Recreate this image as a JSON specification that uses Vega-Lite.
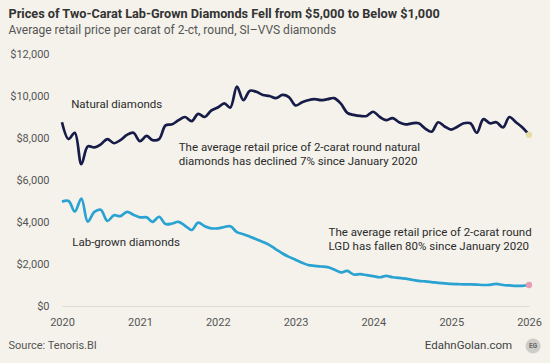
{
  "$schema": "https://vega.github.io/schema/vega-lite/v6.json",
  "width": 467,
  "height": 252,
  "autosize": {"type": "none"},
  "padding": {"left": 62, "top": 54, "right": 21, "bottom": 57},
  "background": "#f4f2eb",
  "config": {
    "view": {"stroke": null},
    "font": "Roboto",
    "title": {"anchor": "start", "frame": "bounds", "fontSize": 12.7, "fontWeight": "bold", "color": "#333333", "subtitleFontSize": 12, "subtitleColor": "#555555", "subtitlePadding": 4, "offset": 12}
  },
  "title": {
    "text": "Prices of Two-Carat Lab-Grown Diamonds Fell from $5,000 to Below $1,000",
    "subtitle": "Average retail price per carat of 2-ct, round, SI–VVS diamonds"
  },
  "datasets": {
    "prices": [
      {"date": "2020-01-01", "natural": 8750, "lab_grown": 4970},
      {"date": "2020-02-01", "natural": 7950, "lab_grown": 5000},
      {"date": "2020-03-01", "natural": 8250, "lab_grown": 4500},
      {"date": "2020-04-01", "natural": 6750, "lab_grown": 5120},
      {"date": "2020-05-01", "natural": 7600, "lab_grown": 4020},
      {"date": "2020-06-01", "natural": 7550, "lab_grown": 4480},
      {"date": "2020-07-01", "natural": 7700, "lab_grown": 4580},
      {"date": "2020-08-01", "natural": 7950, "lab_grown": 4050},
      {"date": "2020-09-01", "natural": 7750, "lab_grown": 4320},
      {"date": "2020-10-01", "natural": 7900, "lab_grown": 4280},
      {"date": "2020-11-01", "natural": 8150, "lab_grown": 4480},
      {"date": "2020-12-01", "natural": 8250, "lab_grown": 4350},
      {"date": "2021-01-01", "natural": 7850, "lab_grown": 4220},
      {"date": "2021-02-01", "natural": 8100, "lab_grown": 4220},
      {"date": "2021-03-01", "natural": 7900, "lab_grown": 4010},
      {"date": "2021-04-01", "natural": 7950, "lab_grown": 4250},
      {"date": "2021-05-01", "natural": 8600, "lab_grown": 3900},
      {"date": "2021-06-01", "natural": 8650, "lab_grown": 3930},
      {"date": "2021-07-01", "natural": 8850, "lab_grown": 4010},
      {"date": "2021-08-01", "natural": 9000, "lab_grown": 3820},
      {"date": "2021-09-01", "natural": 8800, "lab_grown": 3620},
      {"date": "2021-10-01", "natural": 9150, "lab_grown": 3970},
      {"date": "2021-11-01", "natural": 9000, "lab_grown": 3800},
      {"date": "2021-12-01", "natural": 9300, "lab_grown": 3700},
      {"date": "2022-01-01", "natural": 9450, "lab_grown": 3700},
      {"date": "2022-02-01", "natural": 9650, "lab_grown": 3760},
      {"date": "2022-03-01", "natural": 9450, "lab_grown": 3800},
      {"date": "2022-04-01", "natural": 10450, "lab_grown": 3520},
      {"date": "2022-05-01", "natural": 9800, "lab_grown": 3420},
      {"date": "2022-06-01", "natural": 10250, "lab_grown": 3300},
      {"date": "2022-07-01", "natural": 10200, "lab_grown": 3180},
      {"date": "2022-08-01", "natural": 10050, "lab_grown": 3050},
      {"date": "2022-09-01", "natural": 10000, "lab_grown": 2900},
      {"date": "2022-10-01", "natural": 9900, "lab_grown": 2700},
      {"date": "2022-11-01", "natural": 10050, "lab_grown": 2500},
      {"date": "2022-12-01", "natural": 9950, "lab_grown": 2340},
      {"date": "2023-01-01", "natural": 9550, "lab_grown": 2200},
      {"date": "2023-02-01", "natural": 9700, "lab_grown": 2060},
      {"date": "2023-03-01", "natural": 9800, "lab_grown": 1950},
      {"date": "2023-04-01", "natural": 9850, "lab_grown": 1910},
      {"date": "2023-05-01", "natural": 9800, "lab_grown": 1880},
      {"date": "2023-06-01", "natural": 9850, "lab_grown": 1850},
      {"date": "2023-07-01", "natural": 9900, "lab_grown": 1740},
      {"date": "2023-08-01", "natural": 9650, "lab_grown": 1600},
      {"date": "2023-09-01", "natural": 9200, "lab_grown": 1670},
      {"date": "2023-10-01", "natural": 9100, "lab_grown": 1500},
      {"date": "2023-11-01", "natural": 9050, "lab_grown": 1520},
      {"date": "2023-12-01", "natural": 9050, "lab_grown": 1470},
      {"date": "2024-01-01", "natural": 9250, "lab_grown": 1420},
      {"date": "2024-02-01", "natural": 9000, "lab_grown": 1370},
      {"date": "2024-03-01", "natural": 8850, "lab_grown": 1430},
      {"date": "2024-04-01", "natural": 8950, "lab_grown": 1370},
      {"date": "2024-05-01", "natural": 8750, "lab_grown": 1340},
      {"date": "2024-06-01", "natural": 8650, "lab_grown": 1300},
      {"date": "2024-07-01", "natural": 8700, "lab_grown": 1250},
      {"date": "2024-08-01", "natural": 8700, "lab_grown": 1200},
      {"date": "2024-09-01", "natural": 8450, "lab_grown": 1170},
      {"date": "2024-10-01", "natural": 8300, "lab_grown": 1140},
      {"date": "2024-11-01", "natural": 8750, "lab_grown": 1100},
      {"date": "2024-12-01", "natural": 8550, "lab_grown": 1080},
      {"date": "2025-01-01", "natural": 8400, "lab_grown": 1050},
      {"date": "2025-02-01", "natural": 8550, "lab_grown": 1040},
      {"date": "2025-03-01", "natural": 8700, "lab_grown": 1030},
      {"date": "2025-04-01", "natural": 8700, "lab_grown": 1030},
      {"date": "2025-05-01", "natural": 8250, "lab_grown": 1020},
      {"date": "2025-06-01", "natural": 8900, "lab_grown": 1000},
      {"date": "2025-07-01", "natural": 8700, "lab_grown": 1010},
      {"date": "2025-08-01", "natural": 8750, "lab_grown": 1050},
      {"date": "2025-09-01", "natural": 8500, "lab_grown": 1000},
      {"date": "2025-10-01", "natural": 9000, "lab_grown": 980},
      {"date": "2025-11-01", "natural": 8750, "lab_grown": 960},
      {"date": "2025-12-01", "natural": 8500, "lab_grown": 960},
      {"date": "2026-01-01", "natural": 8150, "lab_grown": 1000}
    ],
    "endpoints": [
      {"date": "2026-01-01", "series": "Natural", "value": 8150},
      {"date": "2026-01-01", "series": "Lab-grown", "value": 1000}
    ],
    "notes": [
      {"date": "2020-02-13", "value": 9429, "label": "Natural diamonds"},
      {"date": "2021-07-02", "value": 7381, "label": "The average retail price of 2-carat round natural\ndiamonds has declined 7% since January 2020"},
      {"date": "2020-02-18", "value": 2843, "label": "Lab-grown diamonds"},
      {"date": "2023-06-05", "value": 3348, "label": "The average retail price of 2-carat round\nLGD has fallen 80% since January 2020"}
    ]
  },
  "encoding": {
    "x": {
      "field": "date", "type": "temporal",
      "scale": {"type": "utc", "domain": [{"year": 2020, "month": 1, "date": 1, "utc": true}, {"year": 2026, "month": 1, "date": 1, "utc": true}]},
      "axis": {"title": null, "format": "%Y", "formatType": "utc", "tickCount": {"interval": "year", "step": 1}, "ticks": false, "grid": false, "domain": true, "domainColor": "#dddbd4", "domainWidth": 1, "labelFontSize": 11, "labelColor": "#555555", "labelPadding": 10, "labelFlush": false}
    }
  },
  "layer": [
    {
      "data": {"name": "prices"},
      "mark": {"type": "line", "color": "#161b47", "strokeWidth": 2.7, "interpolate": "catmull-rom"},
      "encoding": {
        "y": {"field": "natural", "type": "quantitative", "scale": {"domain": [0, 12000]},
          "axis": {"title": null, "values": [0, 2000, 4000, 6000, 8000, 10000, 12000], "format": "$,.0f", "ticks": false, "domain": false, "grid": false, "labelFontSize": 11, "labelColor": "#555555", "labelPadding": 13}}
      }
    },
    {
      "data": {"name": "prices"},
      "mark": {"type": "line", "color": "#2aa2d2", "strokeWidth": 2.7, "interpolate": "catmull-rom"},
      "encoding": {"y": {"field": "lab_grown", "type": "quantitative"}}
    },
    {
      "data": {"name": "endpoints"},
      "mark": {"type": "point", "filled": true, "size": 40, "opacity": 1},
      "encoding": {
        "y": {"field": "value", "type": "quantitative"},
        "color": {"field": "series", "type": "nominal", "scale": {"domain": ["Natural", "Lab-grown"], "range": ["#e7dba6", "#e99bb3"]}, "legend": null}
      }
    },
    {
      "data": {"name": "notes"},
      "mark": {"type": "text", "align": "left", "baseline": "alphabetic", "fontSize": 11.5, "color": "#2b2b2b", "lineBreak": "\n", "lineHeight": 14},
      "encoding": {
        "y": {"field": "value", "type": "quantitative"},
        "text": {"field": "label"}
      }
    },
    {
      "data": {"values": [{"date": "2019-04-25", "value": -1905, "label": "Source: Tenoris.BI"}]},
      "mark": {"type": "text", "align": "left", "baseline": "middle", "fontSize": 11, "color": "#555555", "clip": false},
      "encoding": {"y": {"field": "value", "type": "quantitative"}, "text": {"field": "label"}}
    },
    {
      "data": {"values": [{"date": "2025-10-14", "value": -1905, "label": "EdahnGolan.com"}]},
      "mark": {"type": "text", "align": "right", "baseline": "middle", "fontSize": 11.5, "color": "#444444", "clip": false},
      "encoding": {"y": {"field": "value", "type": "quantitative"}, "text": {"field": "label"}}
    },
    {
      "data": {"values": [{"date": "2026-01-20", "value": -1905, "label": "EG"}]},
      "mark": {"type": "point", "filled": true, "shape": "circle", "size": 230, "color": "#cfcdc8", "opacity": 1, "clip": false},
      "encoding": {"y": {"field": "value", "type": "quantitative"}}
    },
    {
      "data": {"values": [{"date": "2026-01-20", "value": -1905, "label": "EG"}]},
      "mark": {"type": "text", "align": "center", "baseline": "middle", "fontSize": 6.5, "fontWeight": "bold", "color": "#666666", "clip": false},
      "encoding": {"y": {"field": "value", "type": "quantitative"}, "text": {"field": "label"}}
    }
  ]
}
